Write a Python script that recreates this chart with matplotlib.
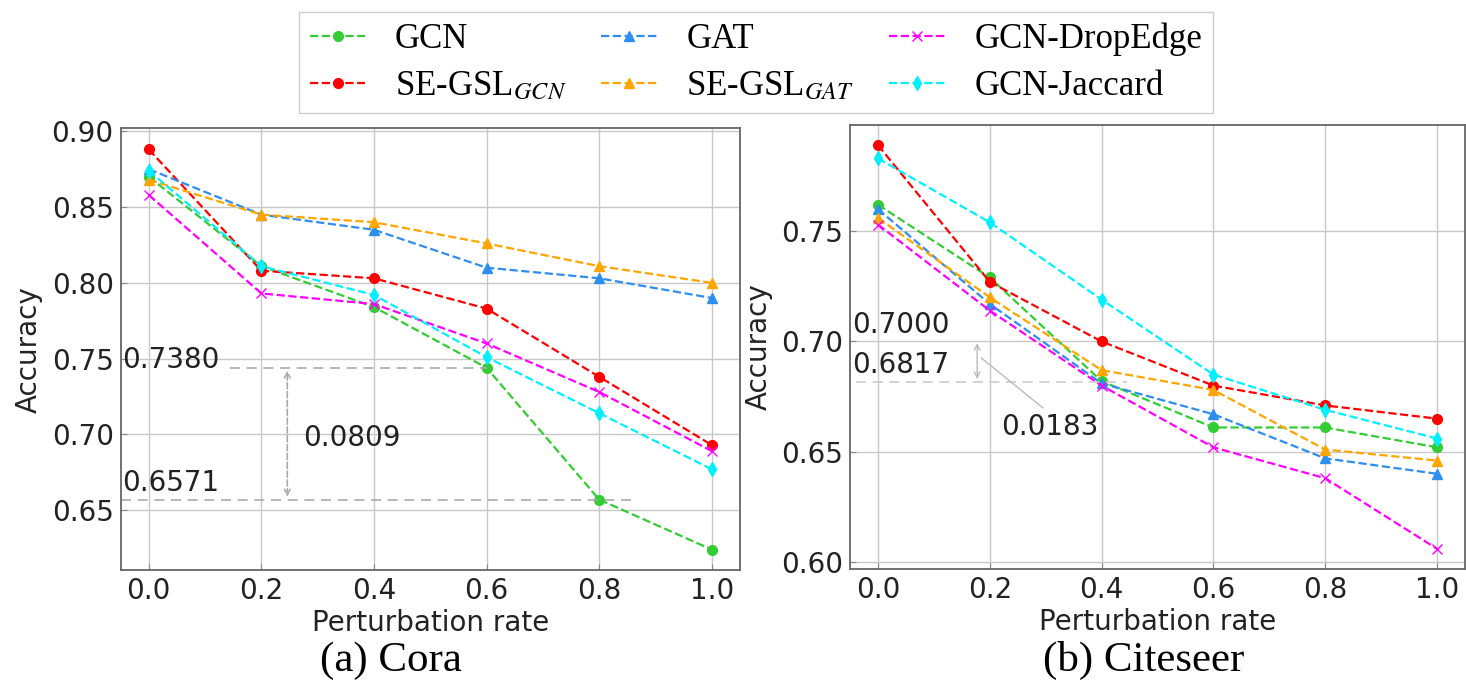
import matplotlib
matplotlib.use("Agg")
import matplotlib.pyplot as plt

plt.rcParams['mathtext.fontset'] = 'stix'

rates = [0.0, 0.2, 0.4, 0.6, 0.8, 1.0]

# ---------------------------
# CORA
# ---------------------------
cora_gcn = [0.870, 0.811, 0.784, 0.744, 0.657, 0.624]
cora_segsl_gcn = [0.888, 0.808, 0.803, 0.783, 0.738, 0.693]
cora_gat = [0.875, 0.845, 0.835, 0.810, 0.803, 0.790]
cora_segsl_gat = [0.868, 0.845, 0.840, 0.826, 0.811, 0.800]
cora_dropedge = [0.858, 0.793, 0.786, 0.760, 0.728, 0.689]
cora_jaccard = [0.874, 0.811, 0.792, 0.751, 0.714, 0.677]

# ---------------------------
# CITESEER
# ---------------------------
cite_gcn = [0.762, 0.729, 0.682, 0.661, 0.661, 0.652]
cite_segsl_gcn = [0.789, 0.727, 0.700, 0.680, 0.671, 0.665]
cite_gat = [0.760, 0.717, 0.681, 0.667, 0.647, 0.640]
cite_segsl_gat = [0.756, 0.720, 0.687, 0.678, 0.651, 0.646]
cite_dropedge = [0.753, 0.714, 0.680, 0.652, 0.638, 0.606]
cite_jaccard = [0.783, 0.754, 0.719, 0.685, 0.669, 0.656]

labels = ["GCN", r"SE-GSL$_{GCN}$", "GAT", r"SE-GSL$_{GAT}$", "GCN-DropEdge", "GCN-Jaccard"]
colors = ["#33cc33", "#ff0000", "#2e8ef0", "#ffa500", "#ff00ff", "#00f0ff"]
markers = ["o", "o", "^", "^", "x", "d"]

cora = [cora_gcn, cora_segsl_gcn, cora_gat, cora_segsl_gat, cora_dropedge, cora_jaccard]
cite = [cite_gcn, cite_segsl_gcn, cite_gat, cite_segsl_gat, cite_dropedge, cite_jaccard]

fs = 20
tc = '#222222'

fig = plt.figure(figsize=(14.66, 6.87), dpi=100)
ax1 = fig.add_axes([0.0823, 0.1703, 0.4224, 0.643])
ax2 = fig.add_axes([0.5798, 0.1718, 0.4195, 0.6463])

for ax, series in [(ax1, cora), (ax2, cite)]:
    for vals, lab, c, m in zip(series, labels, colors, markers):
        ax.plot(rates, vals, linestyle='--', color=c, marker=m, markersize=7,
                linewidth=1.6, label=lab)
    ax.grid(True, color='#c8c8c8', linewidth=1)
    ax.set_axisbelow(True)
    ax.set_xlim(-0.05, 1.05)
    ax.set_xticks(rates)
    ax.tick_params(direction='in', length=4, color='#888888', labelsize=fs,
                   labelcolor=tc, pad=5)
    for s in ax.spines.values():
        s.set_color('#666666')
        s.set_linewidth(1.3)
    ax.set_xlabel("Perturbation rate", fontsize=fs, color=tc, labelpad=3)
    ax.set_ylabel("Accuracy", fontsize=fs, color=tc, labelpad=6)

ax1.set_ylim(0.6105, 0.902)
ax1.set_yticks([0.65, 0.70, 0.75, 0.80, 0.85, 0.90])
ax2.set_yticks([0.60, 0.65, 0.70, 0.75])

# annotations on Cora
gray = '#aaaaaa'
ax1.plot([0.145, 0.6], [cora_gcn[3], cora_gcn[3]], linestyle=(0, (6, 4)), color=gray, lw=1.2)
ax1.plot([-0.05, 0.866], [cora_gcn[4], cora_gcn[4]], linestyle=(0, (6, 4)), color=gray, lw=1.2)
ax1.annotate('', xy=(0.246, cora_gcn[3]), xytext=(0.246, cora_gcn[4]),
             arrowprops=dict(arrowstyle='<->', linestyle='--', color=gray, lw=1.2))
ax1.text(-0.048, 0.7493, "0.7380", fontsize=fs, va='center', ha='left', color=tc)
ax1.text(-0.048, 0.6678, "0.6571", fontsize=fs, va='center', ha='left', color=tc)
ax1.text(0.275, 0.6978, "0.0809", fontsize=fs, va='center', ha='left', color=tc)

# annotations on Citeseer
ax2.plot([-0.04, 0.446], [0.6817, 0.6817], linestyle=(0, (6, 4)), color='#cccccc', lw=1.2)
ax2.annotate('', xy=(0.1775, 0.7005), xytext=(0.1775, 0.6817),
             arrowprops=dict(arrowstyle='<->', color='#bbbbbb', lw=1))
ax2.plot([0.185, 0.295], [0.6925, 0.6699], color='#bbbbbb', lw=1)
ax2.text(-0.047, 0.7073, "0.7000", fontsize=fs, va='center', ha='left', color=tc)
ax2.text(-0.047, 0.6891, "0.6817", fontsize=fs, va='center', ha='left', color=tc)
ax2.text(0.22, 0.6612, "0.0183", fontsize=fs, va='center', ha='left', color=tc)

# sub captions
fig.text(0.267, 0.038, "(a) Cora", fontsize=31, fontfamily='Liberation Serif',
         ha='center', va='center')
fig.text(0.78, 0.038, "(b) Citeseer", fontsize=31, fontfamily='Liberation Serif',
         ha='center', va='center')

handles, labs = ax1.get_legend_handles_labels()
fig.legend(handles, labs, ncol=3, loc='upper center', bbox_to_anchor=(0.5157, 0.9825),
           prop={'family': 'Liberation Serif', 'size': 25}, handlelength=1.6,
           handletextpad=0.85, columnspacing=1.0, labelspacing=0.4,
           borderpad=0.3, borderaxespad=0, edgecolor='#cccccc', framealpha=1,
           fancybox=False)

fig.savefig("out.png", dpi=100)
